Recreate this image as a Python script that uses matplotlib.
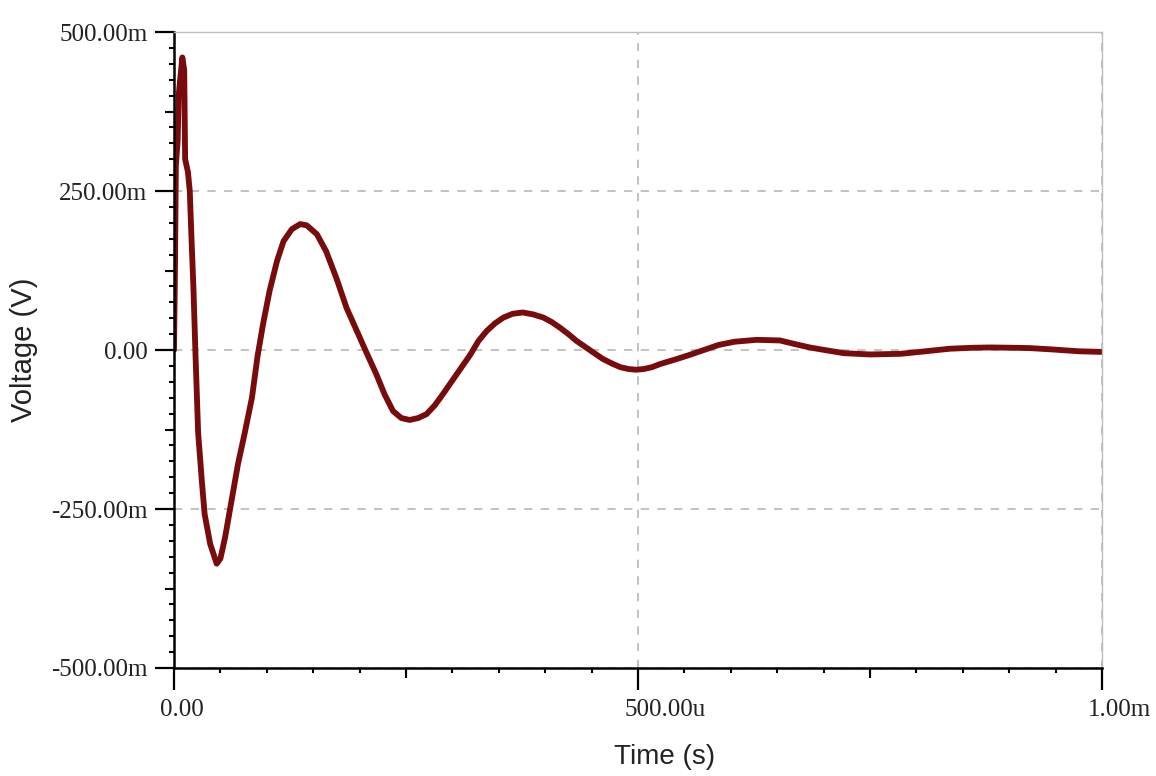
import matplotlib.pyplot as plt
import matplotlib.transforms as mtransforms
import numpy as np

# transient response (time in us, voltage in mV)
t_us = [0, 1, 2, 4, 5, 7, 9, 11, 12, 15, 17, 19, 21, 23, 26, 30, 33, 39, 46,
        50, 55, 62, 69, 76, 84, 90, 96, 103, 111, 118, 127, 136, 143, 154,
        164, 175, 186, 197, 208, 218, 227, 236, 245, 254, 263, 272, 281, 290,
        299, 308, 319, 328, 337, 346, 355, 365, 376, 387, 398, 407, 416, 425,
        434, 443, 452, 462, 473, 481, 490, 498, 506, 515, 524, 540, 555, 571,
        587, 604, 628, 653, 670, 685, 701, 722, 750, 783, 810, 836, 860, 880,
        905, 922, 945, 975, 1000]
v_mv = [0, 120, 290, 330, 400, 430, 460, 440, 300, 280, 250, 170, 95, 0, -130,
        -206, -258, -305, -336, -328, -295, -237, -179, -132, -75, -10, 41,
        93, 140, 171, 190, 198, 196, 182, 155, 113, 66, 30, -6, -38, -70, -96,
        -107, -110, -107, -101, -87, -69, -50, -31, -8, 14, 30, 42, 51, 57,
        59, 56, 51, 44, 35, 25, 14, 5, -4, -14, -22, -27, -30, -31, -30, -27,
        -22, -15, -8, 0, 8, 13, 16, 15, 9, 4, 0, -5, -7, -6, -2, 2, 3.5, 4,
        3.5, 3, 1, -2, -3]

time = np.array(t_us) * 1e-6
volt = np.array(v_mv) * 1e-3

x_major = [0, 500e-6, 1e-3]
x_major_labels = ['0.00', '500.00u', '1.00m']
y_major = [-0.5, -0.25, 0, 0.25, 0.5]
y_major_labels = ['-500.00m', '-250.00m', '0.00', '250.00m', '500.00m']
x_mid = [250e-6, 750e-6]
y_mid = [-0.375, -0.125, 0.125, 0.375]

fig = plt.figure(figsize=(11.56, 7.76), dpi=100)
ax = fig.add_axes([174 / 1156, 1 - 668 / 776, 928 / 1156, 636 / 776])

ax.plot(time, volt, color='#780b0b', lw=4.2, solid_joinstyle='round',
        solid_capstyle='round', zorder=2)

ax.set_xlim(0, 1e-3)
ax.set_ylim(-0.5, 0.5)

ax.grid(True, which='major', color='#b8b8b8', linestyle=(0, (5, 5)), lw=1.2)

ax.set_xticks(x_major, labels=x_major_labels)
ax.set_yticks(y_major, labels=y_major_labels)
ax.set_xticks(np.arange(0, 1.0001e-3, 50e-6), minor=True)
ax.set_yticks(np.arange(-0.5, 0.5001, 0.025), minor=True)

ax.tick_params(which='major', direction='out', length=14, width=1.6,
               color='black', labelcolor='#222222', pad=5)
ax.tick_params(axis='x', which='major', length=16, pad=6)
ax.tick_params(which='minor', direction='out', length=3.5, width=1.5,
               color='black')
for lbl in ax.get_xticklabels() + ax.get_yticklabels():
    lbl.set_fontfamily('Liberation Serif')
    lbl.set_fontsize(18)

# x tick labels sit left-aligned, starting a bit left of their tick
shift = mtransforms.ScaledTranslation(-14 / 100, 0, fig.dpi_scale_trans)
for tick in ax.xaxis.get_major_ticks():
    tick.label1.set_horizontalalignment('left')
    tick.label1.set_transform(tick.label1.get_transform() + shift)

# medium-length ticks halfway between majors
secx = ax.secondary_xaxis('bottom')
secx.set_xticks(x_mid)
secx.tick_params(length=7.5, width=1.5, labelbottom=False)
secx.spines['bottom'].set_visible(False)
secy = ax.secondary_yaxis('left')
secy.set_yticks(y_mid)
secy.tick_params(length=6.5, width=1.5, labelleft=False)
secy.spines['left'].set_visible(False)

for side in ['left', 'bottom']:
    ax.spines[side].set_color('black')
    ax.spines[side].set_linewidth(1.8)
for side in ['top', 'right']:
    ax.spines[side].set_color('#bdbdbd')
    ax.spines[side].set_linewidth(1.0)

ax.set_xlabel('Time (s)', fontfamily='Liberation Sans', fontsize=20,
              color='#222222')
ax.xaxis.set_label_coords(0.529, -0.14)
ax.xaxis.label.set_verticalalignment('center')
ax.set_ylabel('Voltage (V)', fontfamily='Liberation Sans', fontsize=21,
              color='#222222')
ax.yaxis.set_label_coords(-0.162, 0.5)
ax.yaxis.label.set_verticalalignment('center')

fig.savefig('out.png', dpi=100, facecolor='white')
